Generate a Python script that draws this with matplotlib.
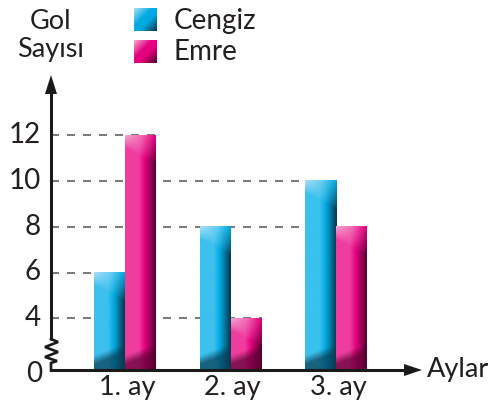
import numpy as np
import matplotlib
matplotlib.use("Agg")
import matplotlib.pyplot as plt
from matplotlib.colors import to_rgb

# ---------------- data ----------------
months = ["1. ay", "2. ay", "3. ay"]
cengiz = [6, 8, 10]
emre = [12, 4, 8]
series_names = ["Cengiz", "Emre"]
ytick_values = [4, 6, 8, 10, 12]
y_label = "Gol\nSayısı"
x_label = "Aylar"

# ---------------- layout helpers (pixel <-> data) ----------------
W, H = 492, 409
X_C0, X_STEP = 125.0, 105.5        # pixel x of first group centre, spacing
Y_4, Y_UNIT = 318.3, 22.9          # pixel y of value 4, pixels per unit
BASE_PX = 370.0                    # pixel y of the (broken) zero line
AXIS_X_PX = 51.0

def dx(p):  # pixel x -> data x
    return (p - X_C0) / X_STEP

def dy(p):  # pixel y (from top) -> data y
    return 4 + (Y_4 - p) / Y_UNIT

BASE = dy(BASE_PX)
BAR_W = 31.0 / X_STEP

fig = plt.figure(figsize=(W / 100, H / 100), dpi=100)
ax = fig.add_axes([0, 0, 1, 1])
ax.set_xlim(dx(0), dx(W))
ax.set_ylim(dy(H), dy(0))
ax.axis("off")

FONT = ["Lato", "DejaVu Sans"]
TXT = "#231f20"

palettes = {
    "Cengiz": dict(light="#3cc0ee", mid="#00aae2", dark="#073a50", hi="#a8def6"),
    "Emre": dict(light="#ef3c9f", mid="#e4007f", dark="#580031", hi="#f5a6d0"),
}


def bar_image(pal, h_px, w_px=31):
    light, mid, dark, hi = (np.array(to_rgb(pal[k])) for k in ("light", "mid", "dark", "hi"))
    u = np.linspace(0, 1, w_px)
    prof = np.zeros((w_px, 3))
    top_prof = np.zeros((w_px, 3))
    for i, uu in enumerate(u):
        if uu < 0.45:
            c = light
        elif uu < 0.65:
            f = (uu - 0.45) / 0.2
            c = light * (1 - f) + mid * f
        else:
            f = (uu - 0.65) / 0.35
            c = mid * (1 - f) + dark * f
        prof[i] = c
        if uu < 0.55:
            f = uu / 0.55
            tc = hi * (1 - f) + (hi * 0.4 + light * 0.6) * f
        else:
            f = (uu - 0.55) / 0.45
            tc = (hi * 0.4 + light * 0.6) * (1 - f) + mid * f
        top_prof[i] = tc
    rows = max(int(round(h_px)), 2)
    img = np.repeat(prof[None, :, :], rows, axis=0)
    t = np.arange(rows)[:, None].astype(float)
    # top highlight with diagonal fade
    f_top = np.clip(1 - t / (12 + 16 * u[None, :]), 0, 1) ** 0.8
    f_top = f_top[:, :, None]
    img = img * (1 - f_top) + top_prof[None, :, :] * f_top
    # bottom shade with diagonal edge
    b = (rows - 1 - t)
    g = np.clip((14 + 12 * u[None, :] - b) / 9.0, 0, 1) * 0.7
    g = g[:, :, None]
    img = img * (1 - g) + dark[None, None, :] * g
    return np.clip(img, 0, 1)


def draw_bar(xc, val, pal):
    h_px = (val - BASE) * Y_UNIT
    img = bar_image(pal, h_px)
    ax.imshow(img, extent=(xc - BAR_W / 2, xc + BAR_W / 2, BASE, val),
              origin="upper", aspect="auto", interpolation="bilinear", zorder=3)


xs = np.arange(len(months))
bar_pos = {}
for i, (c, e) in enumerate(zip(cengiz, emre)):
    draw_bar(xs[i] - BAR_W / 2, c, palettes["Cengiz"])
    draw_bar(xs[i] + BAR_W / 2, e, palettes["Emre"])
    bar_pos.setdefault(c, []).append(xs[i])
    bar_pos.setdefault(e, []).append(xs[i] + BAR_W)

# dashed guide lines from the axis to the farthest bar of that value
for v in ytick_values:
    if v in bar_pos:
        xend = max(bar_pos[v])
        ax.plot([dx(AXIS_X_PX), xend], [v, v], color="#7a7a7a", lw=1.44,
                dashes=(4, 4), zorder=1, dash_capstyle="butt")

# axes lines
AX_LW = 2.2
axx = dx(AXIS_X_PX)
ax.plot([axx, axx], [dy(340), dy(90)], color="#1a1a1a", lw=AX_LW, zorder=4,
        solid_capstyle="butt")
zz_px = [(51, 339), (58, 342), (45, 347), (58, 352), (45, 357), (57, 361), (51, 363), (51, 370)]
ax.plot([dx(p[0]) for p in zz_px], [dy(p[1]) for p in zz_px], color="#1a1a1a", lw=1.9,
        zorder=4, solid_joinstyle="miter")
ax.plot([axx, dx(408)], [BASE, BASE], color="#1a1a1a", lw=AX_LW, zorder=4,
        solid_capstyle="projecting")
# arrowheads
ax.fill([dx(45), dx(57), dx(51)], [dy(94), dy(94), dy(75)], color="#1a1a1a", zorder=5, lw=0)
ax.fill([dx(404), dx(404), dx(422)], [dy(364), dy(376), dy(370)], color="#1a1a1a", zorder=5, lw=0)

# tick labels
for v in ytick_values:
    ax.text(dx(41), v, str(v), ha="right", va="center", fontsize=20, family=FONT, color=TXT)
ax.text(dx(42), dy(374), "0", ha="right", va="center", fontsize=20, family=FONT, color=TXT)
for i, m in enumerate(months):
    ax.text(xs[i] + 0.02, dy(388), m, ha="center", va="center", fontsize=19.5,
            family=FONT, color=TXT)
ax.text(dx(427), dy(369), x_label, ha="left", va="center", fontsize=19.5, family=FONT,
        color=TXT)
ax.text(dx(51), dy(36), y_label, ha="center", va="center", fontsize=19.5, family=FONT,
        color=TXT, linespacing=1.15)

# legend
def legend_square(x0p, y0p, pal):
    light, mid, dark, hi = (np.array(to_rgb(pal[k])) for k in ("light", "mid", "dark", "hi"))
    n = 23
    a = np.linspace(0, 1, n)
    img = np.zeros((n, n, 3))
    for r in range(n):
        for c in range(n):
            f = (a[r] + a[c]) / 2
            if f < 0.4:
                col = hi * (1 - f / 0.4) + mid * (f / 0.4)
            elif f < 0.6:
                col = mid
            else:
                ff = (f - 0.6) / 0.4
                col = mid * (1 - ff) + dark * ff
            img[r, c] = col
    ax.imshow(img, extent=(dx(x0p), dx(x0p + 23), dy(y0p + 23), dy(y0p)),
              origin="upper", aspect="auto", interpolation="bilinear", zorder=3)

legend_square(134, 8, palettes["Cengiz"])
legend_square(134, 40, palettes["Emre"])
ax.text(dx(174), dy(21), series_names[0], ha="left", va="center", fontsize=20,
        family=FONT, color=TXT)
ax.text(dx(174), dy(52), series_names[1], ha="left", va="center", fontsize=20,
        family=FONT, color=TXT)

fig.savefig("out.png", dpi=100)
